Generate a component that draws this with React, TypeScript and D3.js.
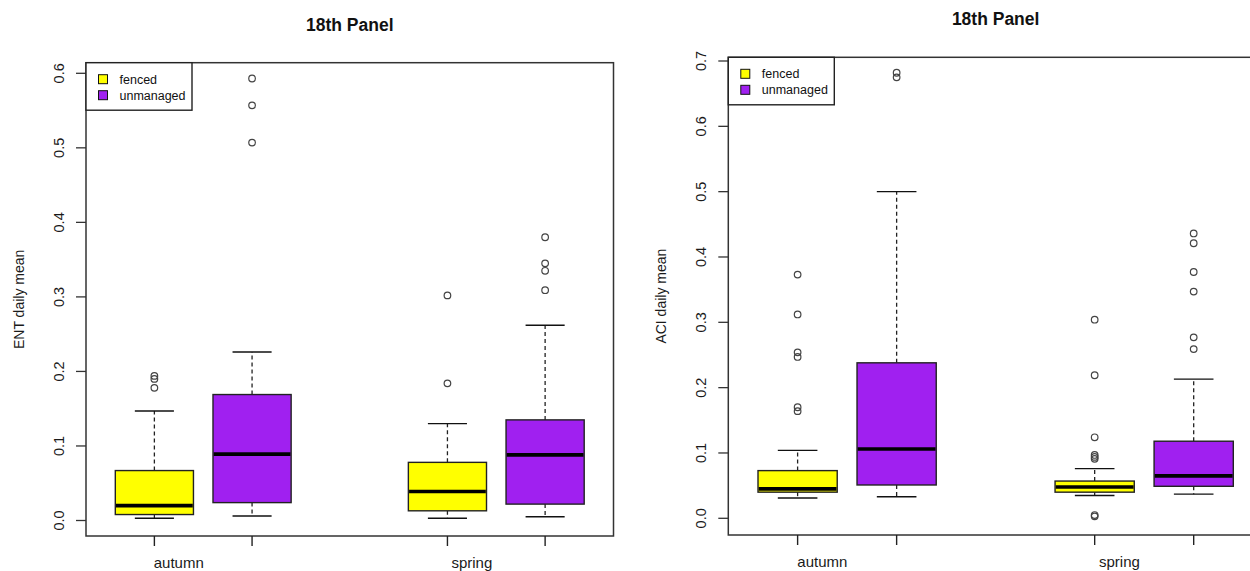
import React, { useRef, useEffect } from 'react';
import * as d3 from 'd3';

// box order: autumn fenced, autumn unmanaged, spring fenced, spring unmanaged
const seasons = ['autumn', 'spring'];
const groups = ['fenced', 'unmanaged'];
const groupColors = ['#FFFF00', '#A020F0'];
const boxPositions = [1, 2, 4, 5];
const seasonLabelPositions = [1.25, 4.25];

const entLow = [0.003, 0.006, 0.003, 0.005];
const entQ1 = [0.008, 0.024, 0.013, 0.022];
const entMedian = [0.02, 0.089, 0.039, 0.088];
const entQ3 = [0.067, 0.169, 0.078, 0.135];
const entHigh = [0.147, 0.226, 0.13, 0.262];
const entOutliers = [
    [0.194, 0.19, 0.178],
    [0.593, 0.557, 0.507],
    [0.302, 0.184],
    [0.38, 0.345, 0.335, 0.309],
];

const aciLow = [0.031, 0.033, 0.035, 0.037];
const aciQ1 = [0.04, 0.051, 0.04, 0.049];
const aciMedian = [0.045, 0.106, 0.048, 0.065];
const aciQ3 = [0.073, 0.238, 0.057, 0.118];
const aciHigh = [0.104, 0.5, 0.076, 0.213];
const aciOutliers = [
    [0.373, 0.312, 0.254, 0.247, 0.17, 0.164],
    [0.682, 0.675],
    [0.304, 0.219, 0.124, 0.097, 0.094, 0.091, 0.005, 0.003],
    [0.436, 0.421, 0.377, 0.347, 0.277, 0.259],
];

const entTicks = [0, 0.1, 0.2, 0.3, 0.4, 0.5, 0.6];
const aciTicks = [0, 0.1, 0.2, 0.3, 0.4, 0.5, 0.6, 0.7];

const FONT = '"Liberation Sans", Arial, Helvetica, sans-serif';

interface PanelConfig {
    frame: { x0: number; x1: number; y0: number; y1: number };
    yRange: [number, number];
    ticks: number[];
    yLabel: string;
    low: number[];
    q1: number[];
    median: number[];
    q3: number[];
    high: number[];
    outliers: number[][];
}

const drawPanel = (
    svg: d3.Selection<SVGSVGElement, unknown, null, undefined>,
    cfg: PanelConfig,
) => {
    const { frame } = cfg;
    const g = svg.append('g');

    const x = d3
        .scaleLinear()
        .domain([0.3, 5.7])
        .range([frame.x0, frame.x1]);
    const y = d3
        .scaleLinear()
        .domain([0, cfg.ticks[cfg.ticks.length - 1]])
        .range(cfg.yRange);
    const unit = x(1) - x(0);
    const halfBox = 0.4 * unit;
    const halfCap = 0.2 * unit;

    // boxes
    boxPositions.forEach((pos, i) => {
        const cx = x(pos);
        const color = groupColors[i % 2];
        const bg = g.append('g');

        bg.append('line')
            .attr('x1', cx)
            .attr('x2', cx)
            .attr('y1', y(cfg.q3[i]))
            .attr('y2', y(cfg.high[i]))
            .attr('stroke', '#222')
            .attr('stroke-width', 1.3)
            .attr('stroke-dasharray', '4 3');
        bg.append('line')
            .attr('x1', cx)
            .attr('x2', cx)
            .attr('y1', y(cfg.q1[i]))
            .attr('y2', y(cfg.low[i]))
            .attr('stroke', '#222')
            .attr('stroke-width', 1.3)
            .attr('stroke-dasharray', '4 3');

        [cfg.high[i], cfg.low[i]].forEach((v) => {
            bg.append('line')
                .attr('x1', cx - halfCap)
                .attr('x2', cx + halfCap)
                .attr('y1', y(v))
                .attr('y2', y(v))
                .attr('stroke', '#111')
                .attr('stroke-width', 1.4);
        });

        bg.append('rect')
            .attr('x', cx - halfBox)
            .attr('width', 2 * halfBox)
            .attr('y', y(cfg.q3[i]))
            .attr('height', y(cfg.q1[i]) - y(cfg.q3[i]))
            .attr('fill', color)
            .attr('stroke', '#222')
            .attr('stroke-width', 1.4);

        bg.append('line')
            .attr('x1', cx - halfBox + 0.7)
            .attr('x2', cx + halfBox - 0.7)
            .attr('y1', y(cfg.median[i]))
            .attr('y2', y(cfg.median[i]))
            .attr('stroke', '#000')
            .attr('stroke-width', 3.6);

        bg.selectAll('circle.out')
            .data(cfg.outliers[i])
            .enter()
            .append('circle')
            .attr('class', 'out')
            .attr('cx', cx)
            .attr('cy', (d) => y(d))
            .attr('r', 3.3)
            .attr('fill', 'none')
            .attr('stroke', '#444')
            .attr('stroke-width', 1.2);
    });

    // frame
    g.append('rect')
        .attr('x', frame.x0)
        .attr('y', frame.y0)
        .attr('width', frame.x1 - frame.x0)
        .attr('height', frame.y1 - frame.y0)
        .attr('fill', 'none')
        .attr('stroke', '#333')
        .attr('stroke-width', 1.5);

    // y axis
    cfg.ticks.forEach((t) => {
        g.append('line')
            .attr('x1', frame.x0 - 10)
            .attr('x2', frame.x0)
            .attr('y1', y(t))
            .attr('y2', y(t))
            .attr('stroke', '#333')
            .attr('stroke-width', 1.3);
        g.append('text')
            .attr(
                'transform',
                `translate(${frame.x0 - 22},${y(t)}) rotate(-90)`,
            )
            .attr('text-anchor', 'middle')
            .attr('font-size', 14.5)
            .attr('fill', '#1a1a1a')
            .text(d3.format('.1f')(t));
    });

    g.append('text')
        .attr(
            'transform',
            `translate(${frame.x0 - 62},${(frame.y0 + frame.y1) / 2}) rotate(-90)`,
        )
        .attr('text-anchor', 'middle')
        .attr('font-size', 14)
        .attr('fill', '#1a1a1a')
        .text(cfg.yLabel);

    // x axis
    boxPositions.forEach((pos) => {
        g.append('line')
            .attr('x1', x(pos))
            .attr('x2', x(pos))
            .attr('y1', frame.y1)
            .attr('y2', frame.y1 + 10)
            .attr('stroke', '#222')
            .attr('stroke-width', 1.4);
    });
    seasons.forEach((s, i) => {
        g.append('text')
            .attr('x', x(seasonLabelPositions[i]))
            .attr('y', frame.y1 + 32)
            .attr('text-anchor', 'middle')
            .attr('font-size', 15)
            .attr('fill', '#1a1a1a')
            .text(s);
    });

    // title
    g.append('text')
        .attr('x', (frame.x0 + Math.min(frame.x1, 1263)) / 2)
        .attr('y', frame.y0 - 32)
        .attr('text-anchor', 'middle')
        .attr('font-size', 17.5)
        .attr('font-weight', 'bold')
        .attr('fill', '#111')
        .text('18th Panel');

    // legend
    const lg = g
        .append('g')
        .attr('transform', `translate(${frame.x0},${frame.y0})`);
    lg.append('rect')
        .attr('width', 106)
        .attr('height', 47.5)
        .attr('fill', 'white')
        .attr('stroke', '#222')
        .attr('stroke-width', 1.4);
    groups.forEach((name, i) => {
        const cy = 16.5 + i * 16;
        lg.append('rect')
            .attr('x', 12.5)
            .attr('y', cy - 4.5)
            .attr('width', 9)
            .attr('height', 9)
            .attr('fill', groupColors[i])
            .attr('stroke', '#111')
            .attr('stroke-width', 1);
        lg.append('text')
            .attr('x', 33.5)
            .attr('y', cy + 4.5)
            .attr('font-size', 12.5)
            .attr('fill', '#111')
            .text(name);
    });
};

const App: React.FC = () => {
    const svgRef = useRef<SVGSVGElement | null>(null);

    useEffect(() => {
        if (!svgRef.current) return;
        const svg = d3.select(svgRef.current);
        svg.selectAll('*').remove();
        svg.style('font-family', FONT);

        drawPanel(svg, {
            frame: { x0: 86, x1: 613.5, y0: 62.7, y1: 536 },
            yRange: [520.5, 73.3],
            ticks: entTicks,
            yLabel: 'ENT daily mean',
            low: entLow,
            q1: entQ1,
            median: entMedian,
            q3: entQ3,
            high: entHigh,
            outliers: entOutliers,
        });

        drawPanel(svg, {
            frame: { x0: 728.3, x1: 1263, y0: 57.3, y1: 535 },
            yRange: [518.3, 61],
            ticks: aciTicks,
            yLabel: 'ACI daily mean',
            low: aciLow,
            q1: aciQ1,
            median: aciMedian,
            q3: aciQ3,
            high: aciHigh,
            outliers: aciOutliers,
        });
    }, []);

    return (
        <svg
            ref={svgRef}
            width={1250}
            height={571}
            style={{
                position: 'absolute',
                left: 0,
                top: 0,
                background: 'white',
            }}
        ></svg>
    );
};

export default App;
